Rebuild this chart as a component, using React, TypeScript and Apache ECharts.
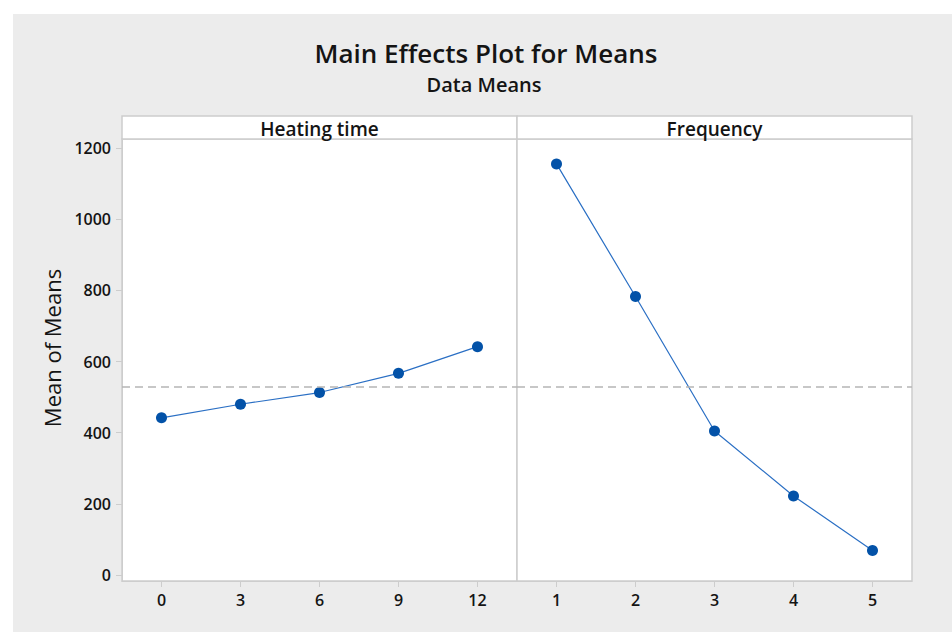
import React, { useEffect, useRef } from "react";
import * as echarts from "echarts";

// Factor levels and the mean response at each level
const heatingLevels = [0, 3, 6, 9, 12];
const heatingMeans = [442, 480, 513, 567, 642];
const frequencyLevels = [1, 2, 3, 4, 5];
const frequencyMeans = [1156, 783, 405, 222, 69];

const yTicks = [0, 200, 400, 600, 800, 1000, 1200];
const panelTitles = ["Heating time", "Frequency"];

const FONT = "'Open Sans', 'Noto Sans', sans-serif";
const BORDER = "#cdcdcd";
const POINT = "#0352a8";
const LINE = "#2a6fc4";
const INK = "#141414";

export default function App() {
  const ref = useRef<HTMLDivElement>(null);

  useEffect(() => {
    if (!ref.current) return;
    const chart = echarts.init(ref.current, undefined, { renderer: "svg" });

    const all = [...heatingMeans, ...frequencyMeans];
    const grandMean = all.reduce((a, b) => a + b, 0) / all.length;

    const plotTop = 139;
    const plotBottom = 581;
    const leftX = 122;
    const midX = 517;
    const rightX = 912;
    const stripTop = 116;

    const tickLabel = {
      color: INK,
      fontFamily: FONT,
      fontSize: 16,
      fontWeight: 600,
      margin: 11,
      formatter: (v: number) => String(v),
    };

    const yAxisBase = {
      type: "value" as const,
      min: -17,
      max: 1226,
      splitLine: { show: false },
    };

    const xAxisStyle = {
      type: "value" as const,
      position: "bottom" as const,
      splitLine: { show: false },
      axisLine: { show: true, onZero: false, lineStyle: { color: BORDER, width: 1 } },
      axisTick: { show: true, length: 6, lineStyle: { color: BORDER } },
      axisLabel: tickLabel,
    };

    const meanLine = {
      silent: true,
      symbol: ["none", "none"],
      label: { show: false },
      lineStyle: { color: "#b5b5b5", type: [8, 5], width: 1.5 },
      data: [{ yAxis: grandMean }],
    };

    const seriesStyle = {
      type: "line" as const,
      symbol: "circle",
      symbolSize: 11,
      itemStyle: { color: POINT },
      lineStyle: { color: LINE, width: 1.2 },
    };

    const strip = (x0: number, x1: number, text: string) => [
      {
        type: "rect",
        shape: { x: x0, y: stripTop, width: x1 - x0, height: plotTop - stripTop },
        style: { fill: "#fff", stroke: BORDER, lineWidth: 1.5 },
      },
      {
        type: "text",
        x: (x0 + x1) / 2,
        y: (stripTop + plotTop) / 2 + 1,
        style: {
          text,
          fill: INK,
          font: `600 19px ${FONT}`,
          align: "center",
          verticalAlign: "middle",
        },
      },
    ];

    chart.setOption({
      animation: false,
      backgroundColor: "#ffffff",
      graphic: [
        {
          type: "rect",
          z: -10,
          shape: { x: 13, y: 14, width: 952 - 13, height: 632 - 14 },
          style: { fill: "#ececec" },
        },
        {
          type: "text",
          x: 486,
          y: 53,
          style: {
            text: "Main Effects Plot for Means",
            fill: INK,
            font: `600 26px ${FONT}`,
            align: "center",
            verticalAlign: "middle",
          },
        },
        {
          type: "text",
          x: 484,
          y: 84,
          style: {
            text: "Data Means",
            fill: INK,
            font: `600 20px ${FONT}`,
            align: "center",
            verticalAlign: "middle",
          },
        },
        {
          type: "text",
          x: 52,
          y: 348,
          rotation: Math.PI / 2,
          style: {
            text: "Mean of Means",
            fill: INK,
            font: `22px ${FONT}`,
            align: "center",
            verticalAlign: "middle",
          },
        },
        ...strip(leftX, midX, panelTitles[0]),
        ...strip(midX, rightX, panelTitles[1]),
      ],
      grid: [
        {
          left: leftX,
          top: plotTop,
          width: midX - leftX,
          height: plotBottom - plotTop,
          show: true,
          backgroundColor: "#fff",
          borderColor: BORDER,
          borderWidth: 1.5,
        },
        {
          left: midX,
          top: plotTop,
          width: rightX - midX,
          height: plotBottom - plotTop,
          show: true,
          backgroundColor: "#fff",
          borderColor: BORDER,
          borderWidth: 1.5,
        },
      ],
      xAxis: [
        {
          ...xAxisStyle,
          gridIndex: 0,
          min: -1.5,
          max: 13.5,
          axisLabel: { ...tickLabel, customValues: heatingLevels },
          axisTick: { ...xAxisStyle.axisTick, customValues: heatingLevels },
        },
        {
          ...xAxisStyle,
          gridIndex: 1,
          min: 0.5,
          max: 5.5,
          axisLabel: { ...tickLabel, customValues: frequencyLevels },
          axisTick: { ...xAxisStyle.axisTick, customValues: frequencyLevels },
        },
      ],
      yAxis: [
        {
          ...yAxisBase,
          gridIndex: 0,
          axisLine: { show: true, onZero: false, lineStyle: { color: BORDER, width: 1 } },
          axisTick: { show: true, length: 6, lineStyle: { color: BORDER }, customValues: yTicks },
          axisLabel: { ...tickLabel, customValues: yTicks },
        },
        {
          ...yAxisBase,
          gridIndex: 1,
          axisLine: { show: false },
          axisTick: { show: false },
          axisLabel: { show: false },
        },
      ],
      series: [
        {
          ...seriesStyle,
          name: panelTitles[0],
          xAxisIndex: 0,
          yAxisIndex: 0,
          data: heatingLevels.map((x, i) => [x, heatingMeans[i]]),
          markLine: meanLine,
        },
        {
          ...seriesStyle,
          name: panelTitles[1],
          xAxisIndex: 1,
          yAxisIndex: 1,
          data: frequencyLevels.map((x, i) => [x, frequencyMeans[i]]),
          markLine: meanLine,
        },
      ],
    });

    return () => chart.dispose();
  }, []);

  return (
    <div
      ref={ref}
      style={{ position: "fixed", left: 0, top: 0, width: 952, height: 632 }}
    />
  );
}
